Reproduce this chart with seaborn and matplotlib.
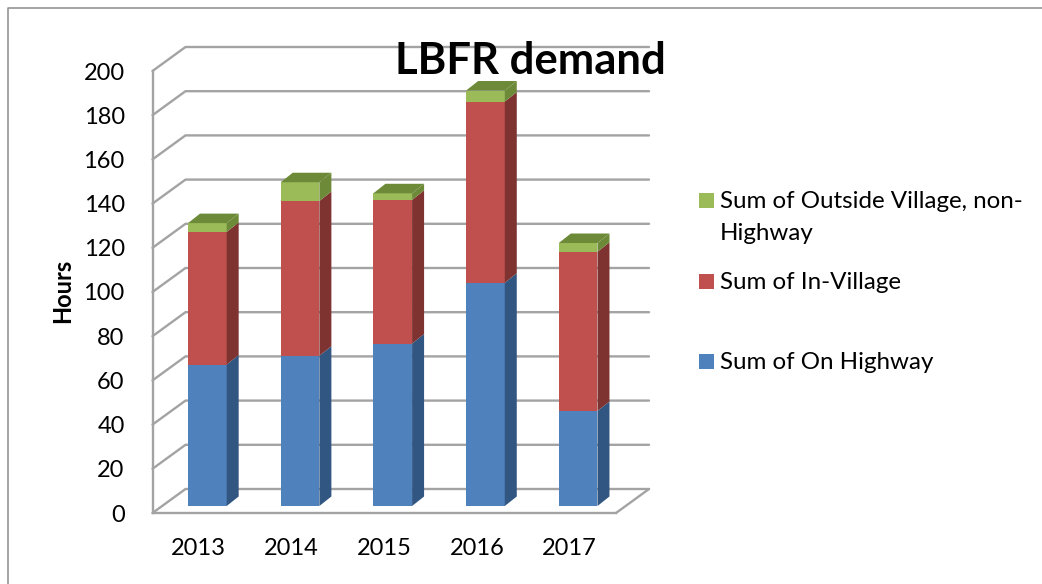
import matplotlib
matplotlib.use("Agg")
import matplotlib.pyplot as plt
import seaborn as sns
import pandas as pd
import numpy as np
from matplotlib.patches import Polygon, Rectangle
from matplotlib.lines import Line2D

years = ["2013", "2014", "2015", "2016", "2017"]
on_highway = [64, 68, 73.5, 101, 43]
in_village = [60, 70, 65, 82, 72]
outside_village = [4, 8.5, 3, 5, 4]
y_ticks = [0, 20, 40, 60, 80, 100, 120, 140, 160, 180, 200]

series_names = ["Sum of On Highway", "Sum of In-Village", "Sum of Outside Village, non-Highway"]
front_cols = ["#4f81bd", "#c0504d", "#9bbb59"]
side_cols = ["#325682", "#7e3331", "#6d8a38"]
grid_col = "#a3a3a3"

W, H = 1042, 584

sns.set_style("white")
plt.rcParams['font.family'] = ['Lato', 'DejaVu Sans']
plt.rcParams['text.color'] = 'black'

fig = plt.figure(figsize=(W / 100, H / 100), dpi=100)
ax = fig.add_axes([152.5 / W, 1 - 513 / H, (616 - 152.5) / W, (513 - 71) / H])

df = pd.DataFrame({"year": years, "on": on_highway, "village": in_village, "outside": outside_village})

# gestapelte Balken
bottom = np.zeros(len(years))
for col, c in zip(["on", "village", "outside"], front_cols):
    sns.barplot(data=df, x="year", y=col, bottom=bottom, color=c, width=0.417,
                saturation=1, ax=ax, zorder=3, linewidth=0)
    bottom = bottom + df[col].values

ax.set_xlim(-0.5, 4.5)
ax.set_ylim(0, 200)

px_x = (616 - 152.5) / 5
px_y = (513 - 71) / 200

# Rueckwand und Boden
back_x = 33 / px_x
back_y = 24 / px_y
for v in y_ticks:
    ax.plot([-0.5, -0.5 + back_x, 4.5 + back_x], [v, v + back_y, v + back_y],
            color=grid_col, lw=1.7, clip_on=False, zorder=1, solid_joinstyle="miter")
ax.plot([4.5, 4.5 + back_x], [0, back_y], color=grid_col, lw=1.7, clip_on=False, zorder=1)

# Balken verschieben und Seiten zeichnen
shift_x = 8.5 / px_x
shift_y = 7 / px_y
depth_x = 12 / px_x
depth_y = 9.5 / px_y
n = len(years)
bars = list(ax.patches)
for i, p in enumerate(bars):
    p.set_x(p.get_x() + shift_x)
    p.set_y(p.get_y() + shift_y)
    p.set_clip_on(False)
    s = i // n
    x0, x1 = p.get_x(), p.get_x() + p.get_width()
    y0, y1 = p.get_y(), p.get_y() + p.get_height()
    ax.add_patch(Polygon([(x1, y0), (x1 + depth_x, y0 + depth_y), (x1 + depth_x, y1 + depth_y), (x1, y1)],
                         closed=True, fc=side_cols[s], ec="none", zorder=3, clip_on=False))
    if s == 2:
        ax.add_patch(Polygon([(x0, y1), (x0 + depth_x, y1 + depth_y), (x1 + depth_x, y1 + depth_y), (x1, y1)],
                             closed=True, fc=side_cols[s], ec="none", zorder=3, clip_on=False))

sns.despine(ax=ax, top=True, right=True)
for sp in ["left", "bottom"]:
    ax.spines[sp].set_color(grid_col)
    ax.spines[sp].set_linewidth(1.7)

ax.set_yticks(y_ticks)
ax.tick_params(axis="both", length=6, width=1.2, color=grid_col, labelsize=17, labelcolor="black")
ax.tick_params(axis="y", pad=14)
ax.tick_params(axis="x", pad=18)
ax.set_xticks(np.arange(-0.5, 5.5), minor=True)
ax.tick_params(axis="x", which="minor", length=6, width=1.2, color=grid_col)
ax.tick_params(axis="x", which="major", length=0)
ax.set_xlabel("")
ax.set_ylabel("")

fig.text(63 / W, 1 - 291 / H, "Hours", rotation=90, fontsize=17, fontweight="bold", ha="center", va="center")
fig.text(530.5 / W, 1 - 61 / H, "LBFR demand", fontsize=31.4, fontweight="bold", ha="center", va="center", zorder=10)

# Legende
legend_rows = [(193, 2, "Sum of Outside Village, non-\nHighway"), (274, 1, "Sum of In-Village"), (354, 0, "Sum of On Highway")]
for top, s, label in legend_rows:
    fig.add_artist(Rectangle((699 / W, 1 - (top + 15) / H), 15 / W, 15 / H, transform=fig.transFigure,
                             fc=front_cols[s], ec="none"))
    fig.text(720 / W, 1 - (top - 2) / H, label, fontsize=17.4, va="top", ha="left", linespacing=1.65)

# Rahmen
fig.add_artist(Line2D([8 / W, 8 / W, 1], [0, 1 - 7.5 / H, 1 - 7.5 / H], color="#8c8c8c", lw=1.1,
                      transform=fig.transFigure))

fig.savefig("out.png", dpi=100)
